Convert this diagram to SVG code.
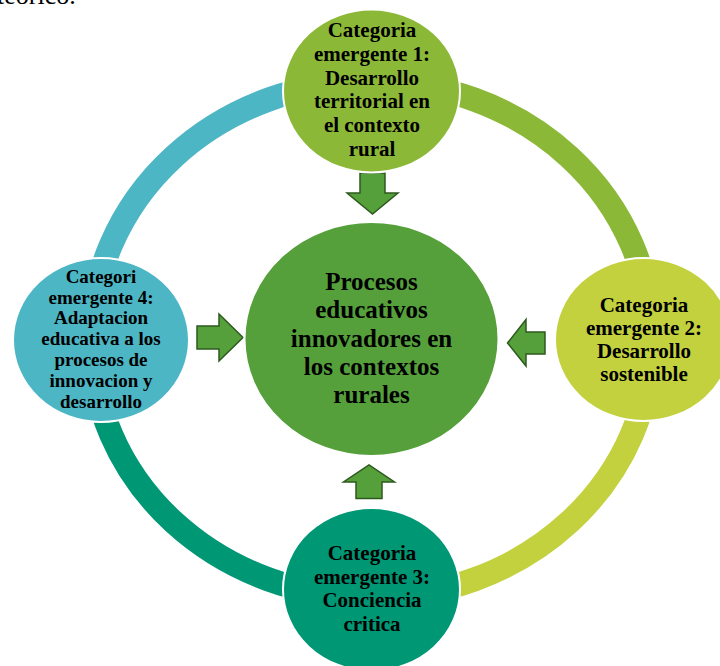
<svg xmlns="http://www.w3.org/2000/svg" width="720" height="666" viewBox="0 0 720 666">
<style>
.t{font-family:"Liberation Serif","Times New Roman",serif;font-weight:bold;fill:#000;text-anchor:middle}
.ring{fill:none;stroke-width:24}
.node{stroke:#fff;stroke-width:2}
.arr{fill:#55A03A;stroke:#2E5A1F;stroke-width:1.5;stroke-linejoin:miter}
</style>
<rect width="720" height="666" fill="#fff"/>
<text x="-3" y="4" font-family="Liberation Serif, serif" font-size="26" fill="#000">teórico.</text>
<g id="connectors">
<path class="ring" stroke="#4CB6C5" d="M 91.5 339.5 A 280 258 0 0 1 371.5 81.5"/>
<path class="ring" stroke="#8CB838" d="M 371.5 81.5 A 280 258 0 0 1 651.5 339.5"/>
<path class="ring" stroke="#C2D13D" d="M 651.5 339.5 A 280 258 0 0 1 371.5 597.5"/>
<path class="ring" stroke="#009775" d="M 371.5 597.5 A 280 258 0 0 1 91.5 339.5"/>
<polygon class="arr" points="360,173 385,173 385,193 398,193 372.5,214 347,193 360,193"/>
<polygon class="arr" points="197,326 219,326 219,314 243,337.5 219,361 219,349 197,349"/>
<polygon class="arr" points="545,332 526,332 526,319.5 507.5,343 526,366 526,354 545,354"/>
<polygon class="arr" points="356,498.5 382,498.5 382,482 394.5,482 369,465 343.5,482 356,482"/>
</g>
<g id="center">
<ellipse class="node" cx="371.5" cy="339" rx="127" ry="117" fill="#55A03B"/>
<text class="t" font-size="25"><tspan x="371.5" y="290">Procesos</tspan><tspan x="371.5" y="318.3">educativos</tspan><tspan x="371.5" y="346.6">innovadores en</tspan><tspan x="371.5" y="375">los contextos</tspan><tspan x="371.5" y="403">rurales</tspan></text>
</g>
<g id="cat1">
<ellipse class="node" cx="371.5" cy="91" rx="88.5" ry="81.5" fill="#8CB838"/>
<text class="t" font-size="21"><tspan x="372" y="37">Categoria</tspan><tspan x="372" y="61">emergente 1:</tspan><tspan x="372" y="85">Desarrollo</tspan><tspan x="372" y="108">territorial en</tspan><tspan x="372" y="132">el contexto</tspan><tspan x="372" y="156">rural</tspan></text>
</g>
<g id="cat2">
<ellipse class="node" cx="643.5" cy="339.5" rx="88.5" ry="81.5" fill="#C2D13D"/>
<text class="t" font-size="21"><tspan x="644" y="311.5">Categoria</tspan><tspan x="644" y="335">emergente 2:</tspan><tspan x="644" y="358">Desarrollo</tspan><tspan x="644" y="381">sostenible</tspan></text>
</g>
<g id="cat3">
<ellipse class="node" cx="371.5" cy="589.5" rx="88.5" ry="81.5" fill="#009775"/>
<text class="t" font-size="21"><tspan x="372" y="560">Categoria</tspan><tspan x="372" y="583.5">emergente 3:</tspan><tspan x="372" y="607">Conciencia</tspan><tspan x="372" y="630.5">critica</tspan></text>
</g>
<g id="cat4">
<ellipse class="node" cx="101" cy="340" rx="88" ry="82" fill="#4CB6C5"/>
<text class="t" font-size="19"><tspan x="101" y="283">Categori</tspan><tspan x="101" y="303.5">emergente 4:</tspan><tspan x="101" y="324">Adaptacion</tspan><tspan x="101" y="345">educativa a los</tspan><tspan x="101" y="366">procesos de</tspan><tspan x="101" y="387">innovacion y</tspan><tspan x="101" y="408">desarrollo</tspan></text>
</g>
</svg>
